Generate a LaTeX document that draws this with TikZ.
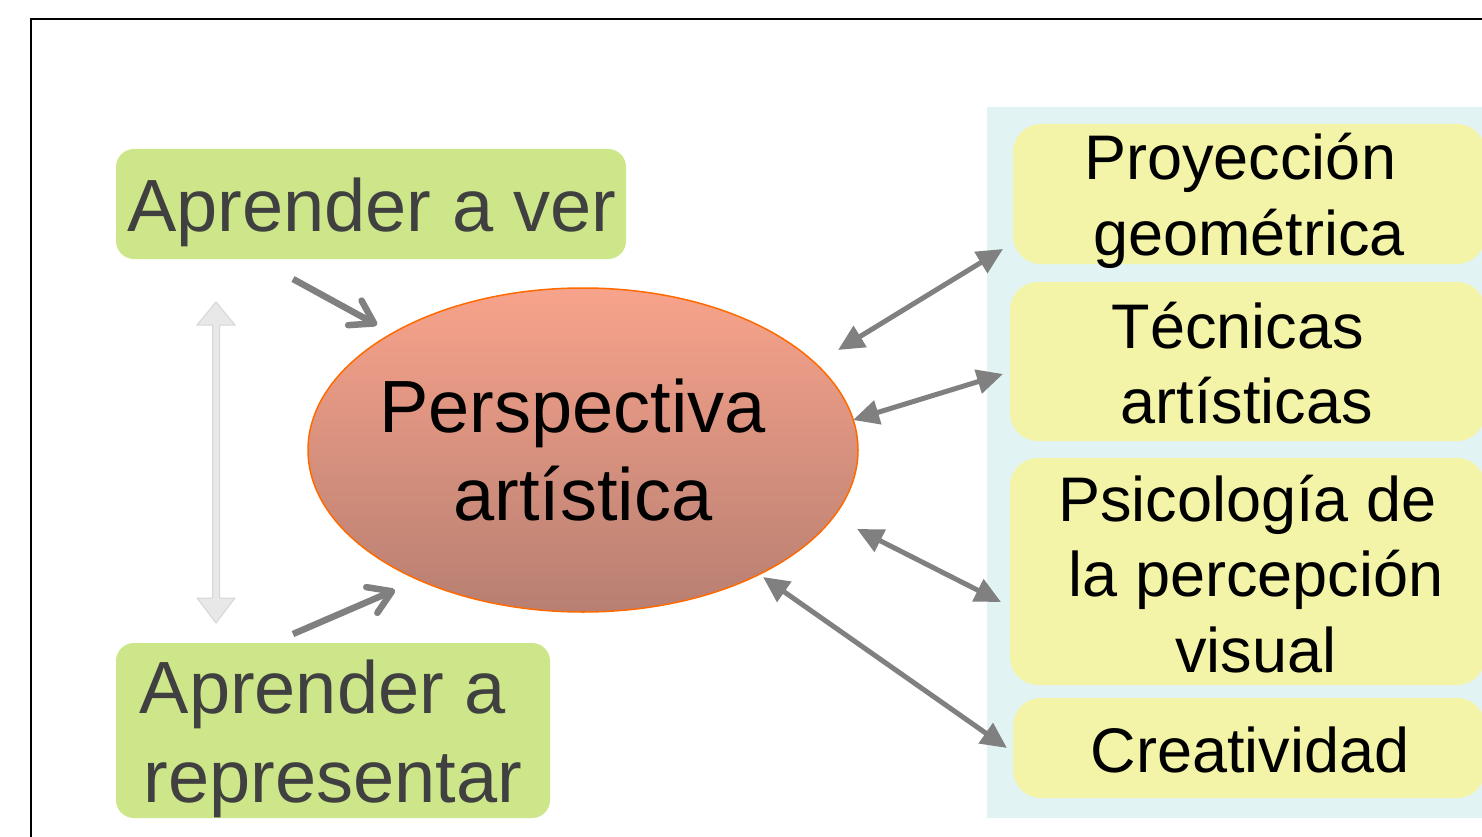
\documentclass[tikz,border=0pt]{standalone}
\usepackage{fontspec}
\setmainfont{Liberation Sans}
\usetikzlibrary{arrows.meta,shapes.geometric}
\definecolor{panelblue}{HTML}{E2F3F4}
\definecolor{yfill}{HTML}{F3F4A8}
\definecolor{gfill}{HTML}{CDE68A}
\definecolor{gtextc}{HTML}{404040}
\definecolor{elltop}{HTML}{F8A38B}
\definecolor{ellbot}{HTML}{B77F72}
\definecolor{ellline}{HTML}{FF6A00}
\definecolor{arrgray}{HTML}{808080}
\definecolor{lightfill}{HTML}{E8E8E8}
\definecolor{lightline}{HTML}{D6D6D6}
\newcommand{\trsp}{~\mbox{}}
\tikzset{
  ybox/.style={rectangle, rounded corners=28pt, fill=yfill, inner sep=0pt},
  gbox/.style={rectangle, rounded corners=18pt, fill=gfill, inner sep=0pt},
  ytext/.style={align=center, inner sep=0pt, font=\fontsize{63}{75.6}\selectfont},
  gtext/.style={align=center, inner sep=0pt, text=gtextc, font=\fontsize{74}{88.8}\selectfont},
  darrow/.style={draw=arrgray, line width=5pt,
    {Triangle[length=26pt,width=24pt]}-{Triangle[length=26pt,width=24pt]}},
  openarrow/.style={draw=arrgray, line width=6.5pt,
    -{Straight Barb[length=22pt,width=28pt,round]}},
}
\begin{document}
\begin{tikzpicture}[x=1pt,y=-1pt]
\useasboundingbox (0,0) rectangle (1482,837);
\clip (0,0) rectangle (1482,837);
\fill[white] (0,0) rectangle (1482,837);
\draw[black, line width=2.5pt] (31,19) rectangle (1530,890);
% right panel
\fill[panelblue] (987,107) rectangle (1520,818);
% yellow boxes
\node[ybox, minimum width=472pt, minimum height=140pt] (proy) at (1249,194) {};
\node[ybox, minimum width=475pt, minimum height=159pt] (tec) at (1247.5,361.5) {};
\node[ybox, minimum width=475pt, minimum height=227pt] (psi) at (1247.5,571.5) {};
\node[ybox, minimum width=472pt, minimum height=100pt] (cre) at (1249,748) {};
\node[ytext] (proyt) at (1249,201) {Proyección\trsp\\geométrica};
\node[ytext] (tect) at (1246.5,363) {Técnicas\trsp\\artísticas};
\node[ytext] (psit) at (1256,574) {Psicología de\trsp\\la percepción\\visual};
\node[ytext] (cret) at (1250,750) {Creatividad};
% green boxes
\node[gbox, minimum width=510pt, minimum height=110pt] (ver) at (371,204) {};
\node[gbox, minimum width=434pt, minimum height=175pt] (rep) at (333,730.5) {};
\node[gtext] (vert) at (372,212) {Aprender a ver};
\node[gtext] (rept) at (333,739) {Aprender a\trsp\\representar};
% ellipse
\node[ellipse, minimum width=550pt, minimum height=324pt, top color=elltop,
  bottom color=ellbot, draw=ellline, line width=1.5pt] (persp) at (583,450) {};
\node[align=center, inner sep=0pt, font=\fontsize{74}{88.8}\selectfont] (perspt) at (583,450) {Perspectiva\trsp\\artística};
% left light double arrow
\coordinate (lt) at (216,302);
\coordinate (lb) at (216,623);
\fill[lightfill, draw=lightline, line width=1pt]
  (lt) -- ++(19,23) -- ++(-15.5,0) -- ++(0,273) -- ++(15.5,0) -- (lb)
  -- ++(-19,-25) -- ++(15.5,0) -- ++(0,-273) -- ++(-15.5,0) -- cycle;
% open arrows
\coordinate (v1) at (293,279);
\coordinate (v2) at (377,325);
\coordinate (r1) at (293,634);
\coordinate (r2) at (395,590);
\draw[openarrow] (v1) -- (v2);
\draw[openarrow] (r1) -- (r2);
% double arrows
\coordinate (a1) at (838,350);
\coordinate (b1) at (1003,249);
\coordinate (a2) at (853,420);
\coordinate (b2) at (1003,374);
\coordinate (a3) at (857,529);
\coordinate (b3) at (1001,602);
\coordinate (a4) at (763,577);
\coordinate (b4) at (1007,748);
\draw[darrow] (a1) -- (b1);
\draw[darrow] (a2) -- (b2);
\draw[darrow] (a3) -- (b3);
\draw[darrow] (a4) -- (b4);
\end{tikzpicture}
\end{document}
